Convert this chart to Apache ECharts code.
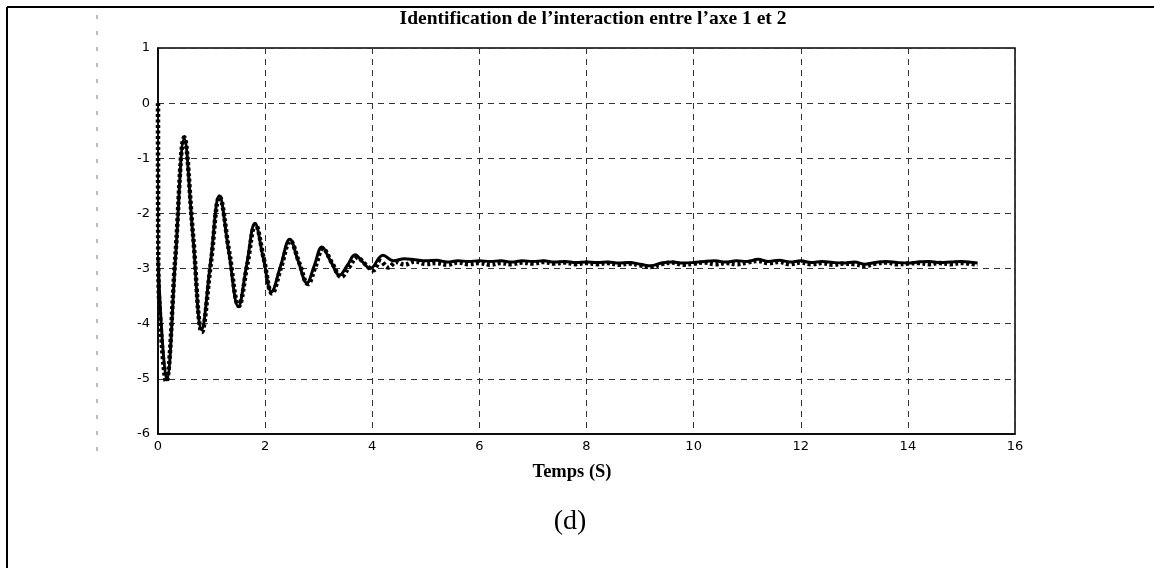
<!DOCTYPE html>
<html>
<head>
<meta charset="utf-8">
<script src="https://cdn.jsdelivr.net/npm/echarts@6/dist/echarts.min.js"></script>
<style>html,body{margin:0;padding:0;background:#fff;}#c{width:1154px;height:568px;}</style>
</head>
<body>
<div id="c"></div>
<script>
// ---- data ----
const titleText = "Identification de l\u2019interaction entre l\u2019axe 1 et 2";
const xAxisName = "Temps (S)";
const panelLabel = "(d)";
const xTicks = [0, 2, 4, 6, 8, 10, 12, 14, 16];
const yTicks = [-6, -5, -4, -3, -2, -1, 0, 1];

// solid curve (time, value)
const solidT = [0, 0.08, 0.16, 0.325, 0.49, 0.65, 0.815, 0.98, 1.145, 1.32, 1.50, 1.655, 1.81, 1.965, 2.12, 2.29, 2.46, 2.62, 2.78, 2.92, 3.06, 3.225, 3.39, 3.535, 3.68, 3.82, 3.96,
  4.2, 4.4, 4.6, 4.8, 5.0, 5.2, 5.4, 5.6, 5.8, 6.0, 6.2, 6.4, 6.6, 6.8, 7.0, 7.2, 7.4, 7.6, 7.8, 8.0, 8.2, 8.4, 8.6, 8.8, 9.0, 9.2, 9.4, 9.6, 9.8, 10.0, 10.2, 10.4, 10.6, 10.8, 11.0, 11.2, 11.4, 11.6, 11.8, 12.0, 12.2, 12.4, 12.6, 12.8, 13.0, 13.2, 13.4, 13.6, 13.8, 14.0, 14.2, 14.4, 14.6, 14.8, 15.0, 15.3];
const solidV = [-2.8, -4.3, -5.02, -2.83, -0.64, -2.38, -4.11, -2.9, -1.68, -2.68, -3.69, -2.94, -2.18, -2.8, -3.42, -2.95, -2.47, -2.87, -3.26, -2.94, -2.61, -2.87, -3.12, -2.94, -2.75, -2.88, -3.0,
  -2.76, -2.86, -2.82, -2.84, -2.86, -2.85, -2.88, -2.86, -2.87, -2.86, -2.87, -2.86, -2.88, -2.86, -2.87, -2.86, -2.88, -2.87, -2.89, -2.88, -2.89, -2.88, -2.9, -2.89, -2.92, -2.95, -2.9, -2.88, -2.9, -2.89, -2.87, -2.86, -2.88, -2.86, -2.87, -2.83, -2.87, -2.85, -2.88, -2.86, -2.89, -2.87, -2.89, -2.9, -2.88, -2.92, -2.89, -2.87, -2.89, -2.9, -2.88, -2.87, -2.89, -2.88, -2.87, -2.9];

// dotted curve (time, value)
const dottedT = [0, 0.005, 0.07, 0.15, 0.32, 0.49, 0.655, 0.82, 0.985, 1.15, 1.33, 1.51, 1.665, 1.82, 1.975, 2.13, 2.30, 2.47, 2.635, 2.80, 2.94, 3.08, 3.25, 3.42, 3.57, 3.72, 3.87, 4.02,
  4.15, 4.3, 4.45, 4.6, 4.8, 5.0, 5.2, 5.4, 5.6, 5.8, 6.0, 6.2, 6.4, 6.6, 6.8, 7.0, 7.2, 7.4, 7.6, 7.8, 8.0, 8.2, 8.4, 8.6, 8.8, 9.0, 9.2, 9.4, 9.6, 9.8, 10.0, 10.2, 10.4, 10.6, 10.8, 11.0, 11.2, 11.4, 11.6, 11.8, 12.0, 12.2, 12.4, 12.6, 12.8, 13.0, 13.2, 13.4, 13.6, 13.8, 14.0, 14.2, 14.4, 14.6, 14.8, 15.0, 15.3];
const dottedV = [0, -2.9, -4.35, -5.05, -2.84, -0.62, -2.4, -4.15, -2.92, -1.7, -2.7, -3.68, -2.94, -2.2, -2.82, -3.45, -2.97, -2.5, -2.89, -3.28, -2.96, -2.64, -2.9, -3.15, -2.97, -2.8, -2.92, -3.03,
  -2.86, -2.98, -2.88, -2.93, -2.87, -2.92, -2.9, -2.93, -2.89, -2.92, -2.9, -2.93, -2.9, -2.92, -2.89, -2.91, -2.88, -2.91, -2.89, -2.92, -2.9, -2.92, -2.9, -2.93, -2.91, -2.94, -2.97, -2.92, -2.89, -2.93, -2.91, -2.89, -2.92, -2.9, -2.92, -2.89, -2.86, -2.9, -2.88, -2.92, -2.89, -2.92, -2.9, -2.93, -2.91, -2.92, -2.95, -2.91, -2.89, -2.92, -2.91, -2.9, -2.92, -2.9, -2.92, -2.9, -2.93];

const pairs = (t, v) => t.map((x, i) => [x, v[i]]);

const chart = echarts.init(document.getElementById('c'), null, {renderer: 'canvas'});
const gridLine = {show: true, lineStyle: {color: '#333', type: [6, 5], width: 1}};
const option = {
  animation: false,
  backgroundColor: '#fff',
  grid: {left: 158, top: 48, width: 857, height: 386, show: true, borderColor: '#000', borderWidth: 1.5, backgroundColor: 'transparent'},
  xAxis: {
    type: 'value', min: xTicks[0], max: xTicks[xTicks.length - 1], interval: 2,
    axisLine: {show: true, onZero: false, lineStyle: {color: '#000', width: 1.5}},
    axisTick: {show: false},
    axisLabel: {color: '#000', fontFamily: 'DejaVu Sans', fontSize: 13, margin: 6},
    splitLine: gridLine
  },
  yAxis: {
    type: 'value', min: yTicks[0], max: yTicks[yTicks.length - 1], interval: 1,
    axisLine: {show: true, onZero: false, lineStyle: {color: '#000', width: 1.5}},
    axisTick: {show: false},
    axisLabel: {color: '#000', fontFamily: 'DejaVu Sans', fontSize: 13, margin: 8},
    splitLine: gridLine
  },
  series: [
    {type: 'line', data: pairs(solidT, solidV), showSymbol: false, smooth: 0.4,
     lineStyle: {color: '#000', width: 3}},
    {type: 'line', data: pairs(dottedT, dottedV), showSymbol: false, smooth: 0.4,
     lineStyle: {color: '#000', width: 4.5, type: [3, 2.5], cap: 'butt'}}
  ],
  graphic: [
    {type: 'line', shape: {x1: 7, y1: 7, x2: 1154, y2: 7}, style: {stroke: '#000', lineWidth: 2}},
    {type: 'line', shape: {x1: 7, y1: 7, x2: 7, y2: 568}, style: {stroke: '#000', lineWidth: 2}},
    {type: 'line', shape: {x1: 97, y1: 15, x2: 97, y2: 463}, style: {stroke: '#777', lineWidth: 1, lineDash: [4, 12]}},
    {type: 'text', x: 593, y: 19, style: {text: titleText, font: 'bold 19.5px "Liberation Serif"', fill: '#000', textAlign: 'center', textVerticalAlign: 'middle'}},
    {type: 'text', x: 572, y: 472, style: {text: xAxisName, font: 'bold 18.5px "Liberation Serif"', fill: '#000', textAlign: 'center', textVerticalAlign: 'middle'}},
    {type: 'text', x: 570, y: 522, style: {text: panelLabel, font: '28px "Liberation Serif"', fill: '#000', textAlign: 'center', textVerticalAlign: 'middle'}}
  ]
};
chart.setOption(option);
</script>
</body>
</html>
